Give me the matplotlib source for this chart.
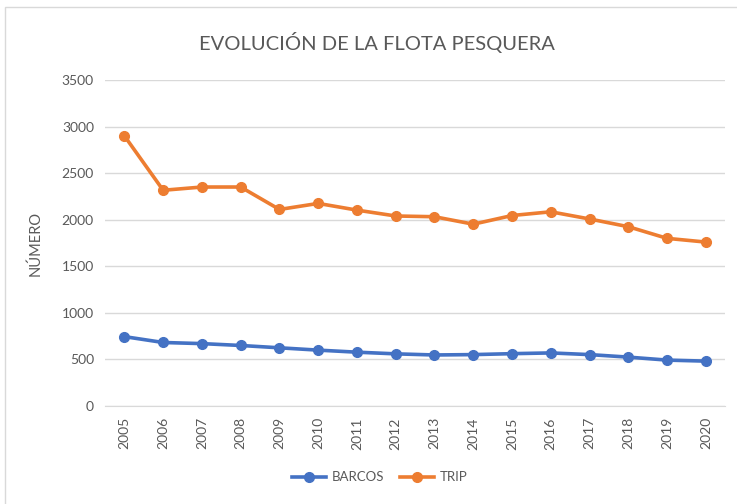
import matplotlib.pyplot as plt
from matplotlib.patches import Rectangle
import numpy as np

plt.rcParams['font.family'] = ['Lato', 'DejaVu Sans']

years = [str(y) for y in range(2005, 2021)]
barcos = [745, 682, 670, 650, 625, 600, 578, 560, 548, 552, 562, 570, 552, 525, 493, 482]
trip = [2900, 2316, 2351, 2351, 2110, 2175, 2103, 2040, 2032, 1952, 2045, 2085, 2008, 1925, 1800, 1760]

gray = '#595959'
x = np.arange(len(years))

fig = plt.figure(figsize=(7.37, 5.04), dpi=100)
ax = fig.add_axes([0.1425, 0.1944, 0.8415, 0.6469])

ax.plot(x, barcos, color='#4472C4', lw=2.6, marker='o', ms=7, label='BARCOS')
ax.plot(x, trip, color='#ED7D31', lw=2.6, marker='o', ms=7, label='TRIP')

ax.set_xlim(-0.5, len(years) - 0.5)
ax.set_ylim(0, 3500)
ax.set_yticks(range(0, 3501, 500))
ax.set_xticks(x)
ax.set_xticklabels(years, rotation=90)
ax.grid(axis='y', color='#d9d9d9', lw=1)
ax.set_axisbelow(True)
for s in ['top', 'right', 'left']:
    ax.spines[s].set_visible(False)
ax.spines['bottom'].set_color('#d9d9d9')
ax.tick_params(axis='both', length=0, colors=gray, labelsize=10, pad=8)

ax.set_ylabel('NÚMERO', color=gray, fontsize=10.5, labelpad=14)
fig.text(0.512, 0.915, 'EVOLUCIÓN DE LA FLOTA PESQUERA', ha='center', va='center',
         fontsize=14.5, color=gray)

fig.legend(loc='center', bbox_to_anchor=(0.515, 0.053), ncol=2, frameon=False,
           fontsize=9.5, labelcolor=gray, handlelength=2.6, handletextpad=0.4,
           columnspacing=1.2)

fig.patches.append(Rectangle((0.007, -0.1), 1.1, 1.086, transform=fig.transFigure,
                             fill=False, edgecolor='#d9d9d9', lw=1))

plt.savefig('out.png', dpi=100)
